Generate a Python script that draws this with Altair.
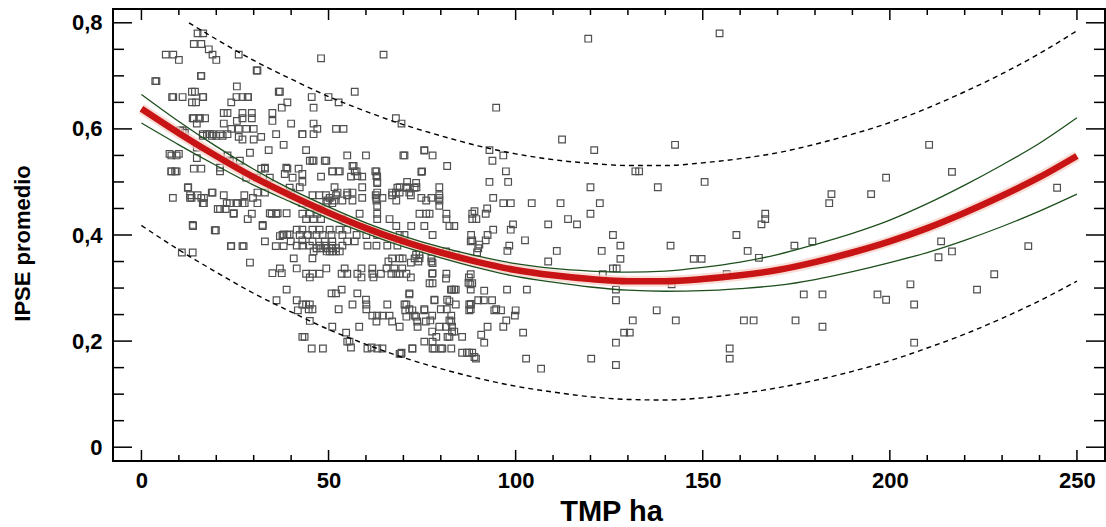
import altair as alt
import pandas as pd

W, H = 992, 452

# ---------------- fitted curve and bands ----------------
curve_x = [0, 10, 20, 30, 40, 50, 60, 70, 80, 90, 100, 110, 120, 130, 140, 150,
           160, 170, 180, 190, 200, 210, 220, 230, 240, 250]
fit_y = [0.638, 0.592, 0.549, 0.509, 0.474, 0.442, 0.413, 0.388, 0.367, 0.349, 0.334,
         0.324, 0.317, 0.313, 0.313, 0.317, 0.324, 0.334, 0.349, 0.367, 0.388, 0.413,
         0.442, 0.474, 0.509, 0.549]
ci_upper = [0.665, 0.614, 0.567, 0.524, 0.486, 0.453, 0.423, 0.398, 0.377, 0.360, 0.346,
            0.337, 0.332, 0.330, 0.332, 0.339, 0.349, 0.363, 0.382, 0.403, 0.428, 0.459,
            0.494, 0.532, 0.573, 0.621]
ci_lower = [0.611, 0.570, 0.531, 0.494, 0.462, 0.431, 0.403, 0.378, 0.357, 0.338, 0.322,
            0.311, 0.302, 0.296, 0.294, 0.295, 0.299, 0.305, 0.316, 0.331, 0.348, 0.367,
            0.390, 0.416, 0.445, 0.477]
pi_lower = [0.418, 0.372, 0.330, 0.290, 0.255, 0.222, 0.194, 0.169, 0.148, 0.130, 0.115,
            0.104, 0.095, 0.090, 0.089, 0.093, 0.101, 0.112, 0.126, 0.143, 0.163, 0.187,
            0.213, 0.243, 0.276, 0.313]
pi_upper_x = [12.7, 20, 30, 40, 50, 60, 70, 80, 90, 100, 110, 120, 130, 140, 150,
              160, 170, 180, 190, 200, 210, 220, 230, 240, 250]
pi_upper = [0.800, 0.769, 0.729, 0.694, 0.661, 0.633, 0.608, 0.587, 0.568, 0.553, 0.542,
            0.535, 0.531, 0.531, 0.536, 0.544, 0.555, 0.571, 0.590, 0.612, 0.639, 0.670,
            0.704, 0.742, 0.785]

# ---------------- observations (TMP ha, IPSE promedio) ----------------
obs_upper_left = [
    (15, 0.78), (16.5, 0.78), (14, 0.76), (16, 0.76), (18, 0.75), (20, 0.73), (19, 0.74),
    (6.5, 0.74), (8.5, 0.74), (10, 0.73), (26, 0.74), (31, 0.71), (16, 0.70), (4, 0.69),
    (25.5, 0.68), (37, 0.67), (8.5, 0.66), (11, 0.66), (13.5, 0.67), (13.5, 0.65),
    (16.5, 0.66), (14.6, 0.65), (24, 0.65), (27, 0.66), (28.5, 0.66), (39, 0.65),
    (37.5, 0.64), (22, 0.63), (23, 0.63), (27, 0.63), (29.5, 0.63), (27, 0.62), (29.5, 0.62),
    (25.5, 0.615), (35, 0.63), (35, 0.615), (40, 0.61), (14, 0.62), (15.5, 0.62), (17, 0.62),
    (36, 0.59), (32, 0.585), (26, 0.585), (23, 0.59), (19, 0.59), (21, 0.59), (17.5, 0.59),
    (43, 0.59), (38, 0.57), (34, 0.56), (29, 0.555), (7.5, 0.553), (10, 0.553), (23, 0.55),
    (39, 0.525), (42, 0.525), (8, 0.52), (9, 0.52), (14, 0.525), (16, 0.525), (21, 0.52),
    (32, 0.525), (33, 0.525), (12.5, 0.49), (13, 0.475), (15, 0.475), (19, 0.48), (22, 0.475),
    (27.5, 0.475), (31, 0.48), (33, 0.48), (11, 0.597), (10.3, 0.597), (11.6, 0.593),
    (14.8, 0.61), (3.7, 0.69), (8.2, 0.66), (14.3, 0.67), (16.4, 0.66), (25.4, 0.66),
    (28.4, 0.66), (36.7, 0.67), (30.8, 0.71), (15.9, 0.70), (22, 0.61), (24, 0.60),
    (26, 0.60), (28, 0.60), (30, 0.60), (27, 0.58), (30, 0.58), (16.4, 0.59), (18.3, 0.59),
    (20, 0.587), (21.7, 0.587), (13.7, 0.62), (15.6, 0.62),
]
obs_upper_mid = [
    (48, 0.733), (64.7, 0.74), (57, 0.67), (45.5, 0.66), (50, 0.66), (52.7, 0.65), (46, 0.64),
    (68, 0.62), (69.5, 0.61), (46, 0.61), (47, 0.60), (46, 0.59), (52, 0.60), (54, 0.60),
    (43, 0.59), (44, 0.56), (45, 0.54), (46, 0.54), (49, 0.54), (55, 0.55), (60, 0.55),
    (70, 0.55), (75.6, 0.56), (77.8, 0.55), (81.7, 0.53), (75, 0.52), (56.7, 0.53),
    (57.5, 0.52), (59, 0.51), (56, 0.51), (62.5, 0.52), (63, 0.51), (63, 0.50), (48, 0.51),
    (51, 0.52), (52.7, 0.52), (51.6, 0.49), (59, 0.49), (71, 0.50), (69, 0.49), (71, 0.49),
    (73.5, 0.49), (79.6, 0.49), (63, 0.48), (55, 0.48), (68, 0.48), (72, 0.475), (79.6, 0.475),
    (45.7, 0.475), (47.5, 0.475), (49.3, 0.475), (52, 0.475), (55, 0.475), (67, 0.475),
    (62.6, 0.475),
]
obs_near_fit = [
    (8, 0.55), (9.4, 0.55), (8, 0.52), (9.4, 0.52), (12.4, 0.489), (13.4, 0.47), (16, 0.47),
    (16.4, 0.46), (20.4, 0.449), (22.8, 0.46), (25.5, 0.46), (27, 0.46), (24.6, 0.44),
    (13.8, 0.417), (19.6, 0.409), (24, 0.379), (27, 0.379), (33, 0.388), (29.5, 0.44),
    (32.4, 0.417), (34.8, 0.44), (36, 0.44), (37, 0.398), (38, 0.401), (39.6, 0.401),
    (41.5, 0.38), (43, 0.39), (44.4, 0.40), (45.7, 0.388), (46.8, 0.375), (48, 0.375),
    (49.4, 0.375), (50.8, 0.375), (52, 0.375), (42.3, 0.49), (43, 0.50), (38.3, 0.515),
    (38.7, 0.527), (45.7, 0.54), (49.4, 0.54), (51, 0.52), (53, 0.52), (56.4, 0.53), (57, 0.52),
    (57.7, 0.511), (62.8, 0.52), (62.8, 0.511), (63, 0.498), (70.3, 0.55), (75.6, 0.559),
    (74.8, 0.519), (68.4, 0.489), (70.8, 0.489), (73.4, 0.498), (73, 0.489), (79.6, 0.47),
    (62.8, 0.47), (64.4, 0.47), (67, 0.48), (69, 0.48), (71.6, 0.48), (74.8, 0.47), (77.5, 0.47),
    (56.4, 0.48), (59, 0.47), (52.4, 0.48), (50.3, 0.47), (51, 0.46), (49.4, 0.46), (47.6, 0.45),
    (43, 0.46), (39.6, 0.489), (40, 0.48), (29.8, 0.47), (31, 0.46), (8.4, 0.47), (18.8, 0.48),
    (23.6, 0.54), (26.3, 0.54), (21, 0.527), (28, 0.508), (30.8, 0.508), (33, 0.527),
    (34.3, 0.508), (40.4, 0.508), (43, 0.515), (14.8, 0.545), (14.8, 0.565), (16.4, 0.587),
    (18.8, 0.587),
]
obs_lower_left = [
    (13, 0.47), (16.7, 0.47), (16.7, 0.46), (21, 0.449), (22.5, 0.449), (24.7, 0.441),
    (23.6, 0.46), (25.7, 0.46), (27.6, 0.46), (28.4, 0.43), (13.7, 0.419), (19.9, 0.409),
    (32.4, 0.419), (34.3, 0.441), (36.4, 0.441), (38.8, 0.441), (23.9, 0.379), (27.3, 0.379),
    (35.9, 0.379), (38, 0.379), (39.9, 0.388), (37.7, 0.40), (39, 0.40), (10.8, 0.367),
    (13.7, 0.367), (29, 0.348), (40.7, 0.356), (41.5, 0.337), (35, 0.328), (37.5, 0.328),
    (37, 0.337), (38.8, 0.297), (36.1, 0.277), (41.5, 0.277), (41.8, 0.258), (43, 0.208),
    (41.5, 0.41), (44.7, 0.26), (44, 0.269), (45, 0.238), (48.5, 0.186), (54.7, 0.216),
    (55, 0.199), (56, 0.188), (58.2, 0.227), (61.5, 0.188), (69.4, 0.176),
]
obs_dense = [
    (49.7, 0.465), (51.6, 0.465), (53.7, 0.465), (56.4, 0.465), (62.8, 0.465), (68.1, 0.465),
    (76.1, 0.465), (79.6, 0.465), (63, 0.455), (79.6, 0.455),
    (43, 0.44), (45, 0.44), (47, 0.44), (58.3, 0.44), (63, 0.44), (74.3, 0.44), (76.1, 0.44),
    (77, 0.44), (81.5, 0.44), (88.4, 0.44),
    (44, 0.43), (46, 0.43), (48, 0.43), (53.7, 0.43), (63, 0.43), (66.3, 0.43), (81.5, 0.43),
    (88.4, 0.43), (68.1, 0.417), (72.1, 0.417), (75.6, 0.417), (82.3, 0.417), (83.6, 0.417),
    (43, 0.41), (45.7, 0.41), (47.6, 0.41), (50.3, 0.41), (52.9, 0.41), (55, 0.41),
    (42.3, 0.40), (44.4, 0.40), (46.8, 0.40), (48.4, 0.40), (50.8, 0.40), (53.7, 0.40),
    (57.5, 0.40), (60.1, 0.40), (63, 0.40), (69, 0.40), (70.3, 0.40), (77.8, 0.40), (88.1, 0.40),
    (49, 0.388), (51, 0.388), (55, 0.388), (57, 0.388), (88, 0.388),
    (43, 0.38), (45, 0.38), (47.6, 0.38), (49, 0.38), (51, 0.38), (53.7, 0.38), (60.4, 0.38),
    (62.8, 0.38), (65.7, 0.38), (68.4, 0.38),
    (46, 0.369), (49.5, 0.369), (50.3, 0.369), (51, 0.369), (52, 0.369), (53, 0.369),
    (45.7, 0.356), (67, 0.356), (69, 0.356), (73, 0.356), (74.3, 0.356), (77.5, 0.356),
    (66, 0.35), (74, 0.35), (77.5, 0.35),
    (49.4, 0.337), (54.3, 0.337), (58.8, 0.337), (61.7, 0.337), (65.5, 0.337), (67.6, 0.337),
    (69.7, 0.337),
    (44, 0.327), (45.7, 0.327), (47.6, 0.327), (53.5, 0.327), (55, 0.327), (57.7, 0.327),
    (61.7, 0.327), (64, 0.327), (66.8, 0.327), (68.1, 0.327), (69, 0.327), (70.8, 0.327),
    (77.7, 0.327), (81.5, 0.327),
    (45, 0.32), (58.8, 0.32), (62, 0.32), (72, 0.32), (87.5, 0.32), (87.4, 0.31),
    (53.5, 0.297), (83, 0.297), (84, 0.297), (88, 0.297),
    (50.8, 0.29), (52, 0.29), (57.7, 0.29), (71.6, 0.29),
    (60, 0.278), (78.3, 0.278), (81.7, 0.278),
    (43, 0.269), (45, 0.269), (56.4, 0.269), (60.1, 0.269), (65.7, 0.269), (70.8, 0.269),
    (84, 0.269), (88, 0.269),
    (45.7, 0.26), (52.7, 0.26), (60.1, 0.26), (71.6, 0.26), (75.6, 0.26), (80, 0.26),
    (81.6, 0.26), (88, 0.26),
    (61.7, 0.248), (63, 0.248), (64.4, 0.248), (66.3, 0.248), (73, 0.248), (77.7, 0.248),
    (82.8, 0.248),
    (62.8, 0.237), (67, 0.237), (73.7, 0.237), (76, 0.237), (82.8, 0.237),
    (51, 0.227), (69, 0.227), (79.6, 0.227), (81.5, 0.227),
    (77.7, 0.218), (83.6, 0.218), (43.6, 0.208), (78.8, 0.208), (81.8, 0.208), (85.7, 0.208),
    (55.6, 0.199), (75.6, 0.199), (77.8, 0.199),
    (45.5, 0.186), (60.4, 0.186), (63, 0.186), (64.4, 0.186), (72.4, 0.186), (77.8, 0.186),
    (80.4, 0.186), (82.8, 0.186),
    (69.5, 0.178), (85.7, 0.178), (87, 0.178), (88.4, 0.178), (89, 0.17),
]
obs_dense_right = [
    (72.4, 0.186), (78.3, 0.186), (80, 0.186), (82.3, 0.208), (83, 0.218), (87.6, 0.178),
    (89.4, 0.167), (91.6, 0.197), (92.5, 0.227), (90.8, 0.212), (90, 0.277), (91.5, 0.277),
    (93.7, 0.277), (94.8, 0.26), (88, 0.27), (82.3, 0.275), (78.3, 0.277), (88.4, 0.309),
    (88, 0.326), (69.8, 0.356), (72, 0.348), (77.8, 0.328), (77.8, 0.309), (77, 0.309),
    (81.4, 0.318), (82.7, 0.297), (83.6, 0.297), (71.6, 0.288), (70.3, 0.269), (70.5, 0.258),
    (72.4, 0.258), (75.6, 0.258), (70.8, 0.246), (73.4, 0.246), (73.8, 0.227), (77.2, 0.239),
    (82.3, 0.239), (83, 0.227), (69, 0.176), (87.6, 0.269), (87.6, 0.258), (94.3, 0.258),
    (96.1, 0.258), (91.6, 0.295), (87.9, 0.307), (89.7, 0.367), (90.3, 0.382), (84, 0.363),
    (81.4, 0.369), (77.8, 0.347), (73.4, 0.363), (74.3, 0.363),
    (94.8, 0.64), (93, 0.56), (93.8, 0.54), (93, 0.50), (94, 0.47), (92.4, 0.45), (92, 0.44),
    (89, 0.445), (89.5, 0.43), (94, 0.41), (92.5, 0.40), (92, 0.39), (88.4, 0.39), (90, 0.375),
]
obs_sparse = [
    (119.4, 0.77), (154.5, 0.78), (112.4, 0.58), (121, 0.56), (142.6, 0.57), (132, 0.52),
    (133, 0.52), (150.5, 0.50), (120, 0.49), (138, 0.49), (166.7, 0.44), (166.7, 0.43),
    (165.7, 0.42), (159, 0.40), (162, 0.37), (174.5, 0.38), (96.7, 0.55), (97.4, 0.52),
    (98, 0.50), (96.7, 0.46), (98.7, 0.46), (104.3, 0.46), (112, 0.46), (122.5, 0.46),
    (120, 0.44), (114, 0.43), (116.4, 0.42), (108.7, 0.42), (99.3, 0.42), (98.7, 0.41),
    (102.5, 0.39), (98.3, 0.38), (97.8, 0.37), (126, 0.40), (128, 0.38), (111, 0.37),
    (123, 0.37), (141.4, 0.38), (128, 0.355), (147.6, 0.355), (149.7, 0.355), (108.7, 0.35),
    (127, 0.337), (126, 0.337), (123.3, 0.326), (156.4, 0.326), (165, 0.357), (141.7, 0.307),
    (126.8, 0.297), (126.8, 0.277), (137.7, 0.258), (131.3, 0.239), (142.8, 0.239),
    (161, 0.239), (163.6, 0.239), (174.8, 0.239), (129, 0.216), (130.5, 0.216),
    (126.8, 0.197), (157.2, 0.186), (157.2, 0.167), (120.2, 0.167), (126.8, 0.155),
    (106.8, 0.148), (102.8, 0.167), (102, 0.216), (99.8, 0.248), (97.5, 0.239),
    (96.7, 0.227), (100, 0.258), (97.7, 0.297), (103, 0.297),
    (210.5, 0.57), (199, 0.508), (216.6, 0.519), (184.4, 0.477), (183.8, 0.46), (195, 0.477),
    (244.7, 0.489), (179.3, 0.388), (213.7, 0.388), (216.6, 0.369), (213, 0.358),
    (237, 0.379), (227.9, 0.326), (223.3, 0.297), (205.5, 0.307), (206.5, 0.269),
    (206.5, 0.197), (196.7, 0.288), (199, 0.278), (177, 0.288), (182, 0.288), (182, 0.227),
]

# ---------------- axis ticks ----------------
x_label_values = [0, 50, 100, 150, 200, 250]
x_minor_ticks = [10, 20, 30, 40, 60, 70, 80, 90, 110, 120, 130, 140, 160, 170, 180, 190,
                 210, 220, 230, 240]
y_label_values = [0, 0.2, 0.4, 0.6, 0.8]
y_minor_ticks = [0.05, 0.1, 0.15, 0.25, 0.3, 0.35, 0.45, 0.5, 0.55, 0.65, 0.7, 0.75]

FONT = "Liberation Sans"

xs = alt.Scale(domain=[-7.6, 257.5], nice=False, zero=False)
ys = alt.Scale(domain=[-0.026, 0.826], nice=False, zero=False)

x_axis = alt.Axis(values=x_label_values, ticks=False, tickSize=0, domain=False, grid=False,
                  labelFont=FONT, labelFontWeight="bold", labelFontSize=22, labelColor="black",
                  labelPadding=9, title="TMP ha", titleFont=FONT, titleFontWeight="bold",
                  titleFontSize=29, titleColor="black", titleX=W / 2 + 2, titleY=50,
                  titleBaseline="middle")
y_axis = alt.Axis(values=y_label_values, ticks=False, tickSize=0, domain=False, grid=False,
                  labelExpr="datum.value == 0 ? '0' : replace(format(datum.value, '.1f'), '.', ',')",
                  labelFont=FONT, labelFontWeight="bold", labelFontSize=22, labelColor="black",
                  labelPadding=11, title="IPSE promedio", titleFont=FONT,
                  titleFontWeight="bold", titleFontSize=22, titleColor="black",
                  titleX=-91, titleY=234, titleAngle=-90, titleBaseline="middle",
                  titleAlign="center")

X = alt.X("x:Q", scale=xs, axis=x_axis)
Y = alt.Y("y:Q", scale=ys, axis=y_axis)

obs = obs_upper_left + obs_upper_mid + obs_near_fit + obs_lower_left + obs_dense + \
    obs_dense_right + obs_sparse
obs_df = pd.DataFrame(obs, columns=["x", "y"])

scatter = alt.Chart(obs_df).mark_point(
    shape="square", filled=False, size=44, strokeWidth=1.2, color="#505050", opacity=1
).encode(x=X, y=Y)


def curve(xv, yv, **style):
    df = pd.DataFrame({"x": xv, "y": yv})
    return alt.Chart(df).mark_line(interpolate="monotone", **style).encode(x=X, y=Y)


pi_up = curve(pi_upper_x, pi_upper, color="black", strokeWidth=1.4, strokeDash=[5, 4])
pi_lo = curve(curve_x, pi_lower, color="black", strokeWidth=1.4, strokeDash=[5, 4])
ci_up = curve(curve_x, ci_upper, color="#1d4f1d", strokeWidth=1.3)
ci_lo = curve(curve_x, ci_lower, color="#1d4f1d", strokeWidth=1.3)
fit_halo = curve(curve_x, fit_y, color="#f4cfc4", strokeWidth=11, opacity=0.7)
fit = curve(curve_x, fit_y, color="#c81414", strokeWidth=6.5)


def yticks(vals, x0, x1):
    return alt.Chart(pd.DataFrame({"y": vals})).mark_rule(
        color="black", strokeWidth=1.5).encode(y=Y, x=alt.value(x0), x2=alt.value(x1))


def xticks(vals, y0, y1):
    return alt.Chart(pd.DataFrame({"x": vals})).mark_rule(
        color="black", strokeWidth=1.5).encode(x=X, y=alt.value(y0), y2=alt.value(y1))


ticks = [
    yticks(y_label_values, 0, 19), yticks(y_minor_ticks, 0, 11),
    yticks(y_label_values, W - 19, W), yticks(y_minor_ticks, W - 11, W),
    xticks(x_label_values, H, H - 11), xticks(x_minor_ticks, H, H - 6),
    xticks(x_label_values, 0, 11), xticks(x_minor_ticks, 0, 6),
]

chart = alt.layer(
    scatter, pi_up, pi_lo, fit_halo, ci_up, ci_lo, fit, *ticks
).properties(
    width=W, height=H,
    padding={"left": 113, "top": 9, "right": 1, "bottom": 66},
    autosize=alt.AutoSizeParams(type="none"),
    background="white",
).configure_view(stroke="black", strokeWidth=2)

chart.save("out.html", embed_options={"renderer": "svg", "actions": False})
